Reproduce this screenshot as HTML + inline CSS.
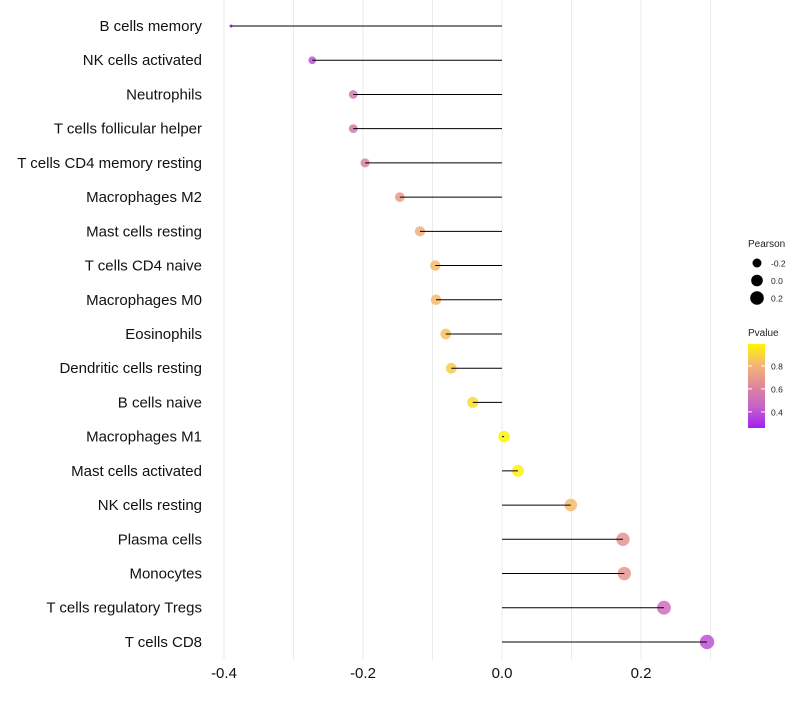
<!DOCTYPE html>
<html><head><meta charset="utf-8"><style>
body{margin:0;background:#fff;}
svg text{font-family:"Liberation Sans",sans-serif;}
</style></head><body>
<svg id="chart" width="800" height="700">
<g id="grid"></g><g id="marks"></g><g id="labels"></g><g id="legend"></g>
</svg>
<script>
const categories=["B cells memory","NK cells activated","Neutrophils","T cells follicular helper","T cells CD4 memory resting","Macrophages M2","Mast cells resting","T cells CD4 naive","Macrophages M0","Eosinophils","Dendritic cells resting","B cells naive","Macrophages M1","Mast cells activated","NK cells resting","Plasma cells","Monocytes","T cells regulatory  Tregs","T cells CD8"];
const pearson=[-0.39,-0.273,-0.214,-0.214,-0.197,-0.147,-0.118,-0.096,-0.095,-0.081,-0.073,-0.042,0.003,0.023,0.099,0.174,0.176,0.233,0.295];
const pvalue=[0.26,0.40,0.55,0.55,0.60,0.70,0.78,0.82,0.82,0.85,0.87,0.92,0.99,0.97,0.82,0.67,0.68,0.50,0.40];
const xTicks=[-0.4,-0.2,0.0,0.2];
const xTickLabels=["-0.4","-0.2","0.0","0.2"];
const sizeLegend=[-0.2,0.0,0.2];
const colorTicks=[0.4,0.6,0.8];

const NS="http://www.w3.org/2000/svg";
const x=v=>502+v*695;
const y=i=>26+i*34.22;
const r=v=>1.5+5.7*Math.sqrt(Math.max(0,Math.min(1,(v+0.39)/0.685)));
const stops=[[0.26,[160,32,240]],[0.45,[200,100,200]],[0.6,[220,130,160]],[0.8,[242,180,120]],[0.99,[255,245,0]]];
function col(p){
  if(p<=stops[0][0])return `rgb(${stops[0][1]})`;
  for(let k=1;k<stops.length;k++){if(p<=stops[k][0]){const a=stops[k-1],b=stops[k],t=(p-a[0])/(b[0]-a[0]);return `rgb(${a[1].map((c,j)=>Math.round(c+(b[1][j]-c)*t)).join(',')})`;}}
  return `rgb(${stops[stops.length-1][1]})`;
}
function mk(tag,attrs,parent){const e=document.createElementNS(NS,tag);for(const k in attrs)e.setAttribute(k,attrs[k]);parent.appendChild(e);return e;}
const grid=document.getElementById('grid'),marks=document.getElementById('marks'),labels=document.getElementById('labels'),legend=document.getElementById('legend');
for(let v=-0.4;v<=0.31;v+=0.1){const g=mk('line',{x1:x(v),x2:x(v),y1:0,y2:660,stroke:'#ebebeb','stroke-width':1},grid);

}
xTicks.forEach((v,i)=>{const t=mk('text',{x:x(v),y:678,'text-anchor':'middle','font-size':15,fill:'#111'},labels);t.textContent=xTickLabels[i];

});
categories.forEach((c,i)=>{
  const t=mk('text',{x:202,y:y(i)+5,'text-anchor':'end','font-size':15,fill:'#111'},labels);t.textContent=c;
  
  
  const ci=mk('circle',{cx:x(pearson[i]),cy:y(i),r:r(pearson[i]),fill:col(pvalue[i]),'fill-opacity':0.85},marks);
  
  
  const l=mk('line',{x1:x(0),x2:x(pearson[i]),y1:y(i),y2:y(i),stroke:'#000','stroke-width':1},marks);
  
  
});
let tt=mk('text',{x:748,y:247,'font-size':10,fill:'#222'},legend);tt.textContent='Pearson';


sizeLegend.forEach((v,i)=>{const cy=263+i*17.5;const c=mk('circle',{cx:757,cy:cy,r:r(v),fill:'#000'},legend);


const t=mk('text',{x:771,y:cy+3.5,'font-size':8.5,fill:'#222'},legend);t.textContent=v.toFixed(1);

});
tt=mk('text',{x:748,y:336,'font-size':10,fill:'#222'},legend);tt.textContent='Pvalue';


const defs=mk('defs',{},legend);const lg=mk('linearGradient',{id:'cb',x1:0,y1:1,x2:0,y2:0},defs);
stops.forEach(s=>mk('stop',{offset:(s[0]-0.26)/(0.99-0.26),'stop-color':`rgb(${s[1]})`},lg));
const bar=mk('rect',{x:748,y:344,width:17,height:84,fill:'url(#cb)'},legend);


colorTicks.forEach(v=>{const cy=428-(v-0.26)/(0.99-0.26)*84;
mk('line',{x1:748,x2:752,y1:cy,y2:cy,stroke:'#fff'},legend);mk('line',{x1:761,x2:765,y1:cy,y2:cy,stroke:'#fff'},legend);
const t=mk('text',{x:771,y:cy+3.5,'font-size':8.5,fill:'#222'},legend);t.textContent=v.toFixed(1);

});
</script>
</body></html>
